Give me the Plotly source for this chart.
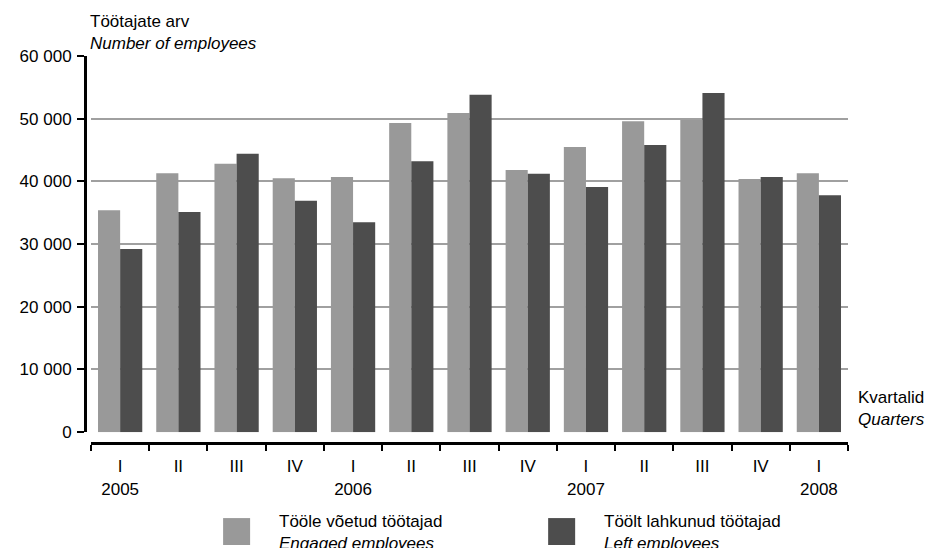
import plotly.graph_objects as go

categories = ["2005 I", "2005 II", "2005 III", "2005 IV",
              "2006 I", "2006 II", "2006 III", "2006 IV",
              "2007 I", "2007 II", "2007 III", "2007 IV",
              "2008 I"]
tick_labels = ["I<br>2005", "II", "III", "IV",
               "I<br>2006", "II", "III", "IV",
               "I<br>2007", "II", "III", "IV",
               "I<br>2008"]
engaged = [35400, 41300, 42800, 40500, 40700, 49300, 50900,
           41800, 45500, 49600, 49800, 40400, 41300]
left = [29200, 35100, 44400, 36900, 33500, 43200, 53800,
        41200, 39100, 45800, 54100, 40700, 37800]
y_ticks = [0, 10000, 20000, 30000, 40000, 50000, 60000]

FONT = "Liberation Sans, Arial, sans-serif"
LIGHT = "#999999"
DARK = "#4d4d4d"

fig = go.Figure(
    data=[
        go.Bar(name="Tööle võetud töötajad", x=categories, y=engaged,
               marker=dict(color=LIGHT, line=dict(width=0))),
        go.Bar(name="Töölt lahkunud töötajad", x=categories, y=left,
               marker=dict(color=DARK, line=dict(width=0))),
    ]
)

# page has an 8px body margin, so the figure is a bit smaller than the window
fig.update_layout(
    width=925, height=540,
    margin=dict(l=77, r=85, t=48, b=105),
    barmode="group", bargap=0.24, bargroupgap=0,
    plot_bgcolor="white", paper_bgcolor="white",
    showlegend=False,
    separators=". ",
    font=dict(family=FONT, size=17, color="black"),
    xaxis=dict(
        type="category", domain=[0.0079, 1], anchor="free", position=0,
        tickvals=categories, ticktext=tick_labels,
        tickson="boundaries", ticks="outside", ticklen=6, tickwidth=2,
        tickcolor="black", showline=True, linecolor="black", linewidth=3,
        showgrid=False, automargin=False, ticklabelstandoff=7,
    ),
    yaxis=dict(
        domain=[0.028, 1], anchor="free", position=0,
        range=[0, 60000], tickvals=y_ticks, tickformat=",d",
        ticks="outside", ticklen=7, tickwidth=2, tickcolor="black",
        showline=True, linecolor="black", linewidth=3,
        showgrid=True, gridcolor="#a0a0a0", gridwidth=1.5,
        zeroline=False, automargin=False, ticklabelstandoff=2,
    ),
)

# axis titles
fig.add_annotation(text="Töötajate arv<br><i>Number of employees</i>",
                   xref="paper", yref="paper", x=0.004, y=1.12,
                   xanchor="left", yanchor="top", align="left",
                   showarrow=False)
fig.add_annotation(text="Kvartalid<br><i>Quarters</i>",
                   xref="paper", yref="paper", x=1.01, y=0.088,
                   xanchor="left", yanchor="middle", align="left",
                   showarrow=False)

# legend drawn by hand to get the large square swatches
for x0, color, name, en in [(0.181, LIGHT, "Tööle võetud töötajad", "Engaged employees"),
                            (0.607, DARK, "Töölt lahkunud töötajad", "Left employees")]:
    fig.add_shape(type="rect", xref="paper", yref="paper",
                  x0=x0, x1=x0 + 0.0354, y0=-0.2636, y1=-0.194,
                  fillcolor=color, line=dict(width=0))
    fig.add_annotation(text=f"{name}<br><i>{en}</i>",
                       xref="paper", yref="paper", x=x0 + 0.071, y=-0.231,
                       xanchor="left", yanchor="middle", align="left",
                       showarrow=False)

fig.write_html("out.html")
